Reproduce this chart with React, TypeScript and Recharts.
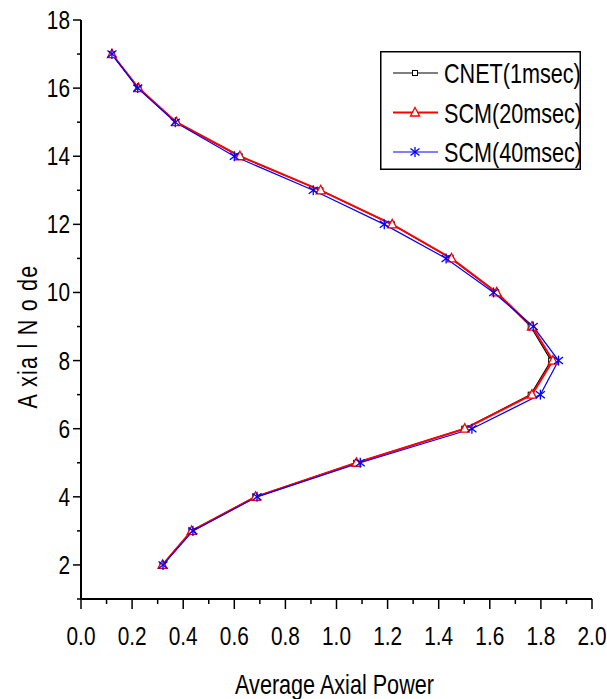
import React from 'react';
import { LineChart, Line, XAxis, YAxis, Legend } from 'recharts';

const nodes = [17, 16, 15, 14, 13, 12, 11, 10, 9, 8, 7, 6, 5, 4, 3, 2];
const cnet = [0.121, 0.225, 0.373, 0.621, 0.937, 1.217, 1.448, 1.625, 1.76, 1.84, 1.76, 1.5, 1.077, 0.682, 0.432, 0.319];
const scm20 = [0.121, 0.225, 0.373, 0.622, 0.938, 1.218, 1.45, 1.627, 1.765, 1.847, 1.765, 1.502, 1.078, 0.683, 0.433, 0.319];
const scm40 = [0.121, 0.222, 0.369, 0.6, 0.909, 1.187, 1.429, 1.615, 1.77, 1.869, 1.798, 1.53, 1.093, 0.689, 0.438, 0.321];

const seriesNames = ['CNET(1msec)', 'SCM(20msec)', 'SCM(40msec)'];
const seriesColors = ['#000000', '#ff0000', '#0000ff'];
const seriesWidths = [1.2, 2, 1.2];
const xTicks = [0, 0.1, 0.2, 0.3, 0.4, 0.5, 0.6, 0.7, 0.8, 0.9, 1.0, 1.1, 1.2, 1.3, 1.4, 1.5, 1.6, 1.7, 1.8, 1.9, 2.0];
const yTicks = [1, 2, 3, 4, 5, 6, 7, 8, 9, 10, 11, 12, 13, 14, 15, 16, 17, 18];
const xTitle = 'Average Axial Power';
const yTitle = 'A xia l N o de';

const data = nodes.map((n, i) => ({ node: n, cnet: cnet[i], scm20: scm20[i], scm40: scm40[i] }));

const FONT = "'Liberation Sans', Arial, sans-serif";
const SX = 0.8;

const NText = ({ x, y, size, anchor = 'start', rotate = 0, spacing = 0, children }: any) => (
  <text
    transform={`translate(${x} ${y}) rotate(${rotate}) scale(${SX} 1)`}
    x={0}
    y={0}
    textAnchor={anchor}
    fontSize={size}
    fontFamily={FONT}
    letterSpacing={spacing}
    fill="#000"
  >
    {children}
  </text>
);

const Square = ({ cx, cy, color }: any) => (
  <rect x={cx - 2.5} y={cy - 2.5} width={5} height={5} fill="#fff" stroke={color} strokeWidth={1} />
);
const Triangle = ({ cx, cy, color }: any) => (
  <path d={`M${cx},${cy - 5} L${cx + 4.5},${cy + 3.5} L${cx - 4.5},${cy + 3.5} Z`} fill="#fff" stroke={color} strokeWidth={1.3} />
);
const Star = ({ cx, cy, color }: any) => (
  <g stroke={color} strokeWidth={1.3}>
    <line x1={cx} y1={cy - 5} x2={cx} y2={cy + 5} />
    <line x1={cx - 4.5} y1={cy - 3.5} x2={cx + 4.5} y2={cy + 3.5} />
    <line x1={cx - 4.5} y1={cy + 3.5} x2={cx + 4.5} y2={cy - 3.5} />
  </g>
);
const markers = [Square, Triangle, Star];

const XTick = (props: any) => {
  const { x, y, payload, index } = props;
  const major = index % 2 === 0;
  return (
    <g>
      <line x1={x} y1={y} x2={x} y2={y + (major ? 10 : 5)} stroke="#000" strokeWidth={1.5} />
      {major && (
        <NText x={x} y={y + 46} size={26} anchor="middle">
          {Number(payload.value).toFixed(1)}
        </NText>
      )}
    </g>
  );
};

const YTick = (props: any) => {
  const { x, y, payload } = props;
  const major = payload.value % 2 === 0;
  return (
    <g>
      <line x1={x - (major ? 8 : 4)} y1={y} x2={x} y2={y} stroke="#000" strokeWidth={1.5} />
      {major && (
        <NText x={x - 11} y={y + 9} size={26} anchor="end">
          {payload.value}
        </NText>
      )}
    </g>
  );
};

const renderLegend = () => (
  <svg width={201} height={119} style={{ display: 'block' }}>
    <rect x={0.75} y={0.75} width={199.5} height={117.5} fill="#fff" stroke="#000" strokeWidth={1.5} />
    {seriesNames.map((name, i) => {
      const cy = 22 + i * 39.5;
      const M = markers[i];
      return (
        <g key={name}>
          <line x1={13} y1={cy} x2={58} y2={cy} stroke={seriesColors[i]} strokeWidth={seriesWidths[i]} />
          <M cx={35} cy={cy} color={seriesColors[i]} />
          <NText x={64} y={cy + 10} size={27}>{name}</NText>
        </g>
      );
    })}
  </svg>
);

const keys = ['cnet', 'scm20', 'scm40'];

export default function App() {
  return (
    <div style={{ position: 'absolute', left: 0, top: 0, background: '#fff' }}>
      <LineChart
        width={607}
        height={699}
        data={data}
        layout="vertical"
        margin={{ top: 20, right: 15, bottom: 0, left: 0 }}
      >
        <XAxis
          type="number"
          domain={[0, 2]}
          ticks={xTicks}
          interval={0}
          tickSize={0}
          tickMargin={0}
          tickLine={false}
          tick={<XTick />}
          height={100}
          axisLine={{ stroke: '#000', strokeWidth: 2 }}
          allowDataOverflow
          label={{
            content: ({ viewBox }: any) => (
              <NText x={viewBox.x + viewBox.width / 2 - 2} y={viewBox.y + 95} size={27} anchor="middle">
                {xTitle}
              </NText>
            ),
          }}
        />
        <YAxis
          type="number"
          dataKey="node"
          domain={[1, 18]}
          ticks={yTicks}
          interval={0}
          reversed
          tickSize={0}
          tickMargin={0}
          tickLine={false}
          tick={<YTick />}
          width={81}
          axisLine={{ stroke: '#000', strokeWidth: 2 }}
          allowDataOverflow
          label={{
            content: ({ viewBox }: any) => (
              <NText x={37} y={viewBox.y + viewBox.height / 2 + 27} size={27} anchor="middle" rotate={-90} spacing={1.5}>
                {yTitle}
              </NText>
            ),
          }}
        />
        <Legend
          layout="vertical"
          align="center"
          verticalAlign="middle"
          content={renderLegend}
          wrapperStyle={{ position: 'absolute', left: 380, top: 51, width: 201, height: 119 }}
        />
        {keys.map((k, i) => {
          const M = markers[i];
          return (
            <Line
              key={k}
              dataKey={k}
              name={seriesNames[i]}
              stroke={seriesColors[i]}
              strokeWidth={seriesWidths[i]}
              isAnimationActive={false}
              dot={(p: any) => <M key={`${k}-${p.index}`} cx={p.cx} cy={p.cy} color={seriesColors[i]} />}
              activeDot={false}
            />
          );
        })}
      </LineChart>
    </div>
  );
}
